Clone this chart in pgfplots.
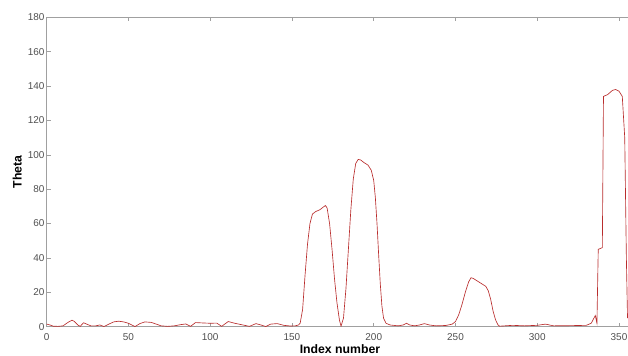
\documentclass[border=0pt]{standalone}
\usepackage{fontspec}
\setmainfont{Liberation Sans}
\usepackage{pgfplots}
\pgfplotsset{compat=1.18}
\definecolor{axgray}{RGB}{160,160,160}
\definecolor{ticktext}{RGB}{80,80,80}
\definecolor{linered}{RGB}{185,45,45}
\begin{document}
\begin{tikzpicture}
\begin{axis}[
  at={(0,0)}, anchor=south west,
  scale only axis, width=581.3bp, height=309.4bp,
  xmin=0, xmax=355.5, ymin=0, ymax=180,
  axis x line*=box, axis y line*=left,
  axis line style={axgray, line width=0.6bp},
  tick style={axgray, line width=0.6bp},
  tick align=inside, major tick length=4bp,
  xtick={0,50,...,350}, ytick={0,20,...,180},
  /pgf/number format/assume math mode=true,
  tick label style={font=\fontsize{10}{12}\selectfont, text=ticktext, inner sep=1bp},
  xticklabel style={yshift=-5.5bp},
  yticklabel style={xshift=-1bp},
  xlabel={Index number}, ylabel={Theta},
  every axis x label/.style={at={(axis description cs:0.5045,0)}, anchor=base, yshift=-26.3bp, font=\bfseries\fontsize{12.3}{15}\selectfont, text=black},
  every axis y label/.style={at={(axis description cs:-0.043,0.5)}, anchor=base, rotate=90, font=\bfseries\fontsize{12.3}{15}\selectfont, text=black},
]
\addplot[linered, line width=0.65bp] table {
x y
0 1.5
2 1
4 0.3
7 0.2
10 0.5
13 2.5
15.5 3.8
17 3
19 1
20.5 0.2
22.5 2.3
24.5 1.5
27 0.5
30 0.5
32.5 1
35 0.1
38 1.5
41 2.8
44 3.2
47 2.8
50 2
52 1
54 0.1
57 1.8
60 2.8
64 2.5
67 1.5
70 0.5
74 0.2
78 0.5
82 1.2
85 1.6
88 0.2
91 2.4
95 2.2
100 2
104 2.1
107 0.2
111 3
115 2
120 1
124 0.2
128 1.8
131 1
134 0.1
137 1.5
141 1.8
145 0.8
149 0.4
152 0.5
154 1
155 2
156.5 10
158 30
159.5 48
161 60
162.5 65.5
164.5 67
167 68
169 69.5
170.5 70.5
171.5 69
173 60
174.5 45
176 28
177.5 14
179 4
180 0.3
181.5 5
183 22
184.5 45
186 68
187.5 86
189 95
190.5 97.3
192 97
194 95.5
196.5 94
198.5 91
200 85
201 75
202 60
203 42
204 25
205 12
206 5
207.5 2
210 1
215 0.5
218 1
220 2
222 1
225 0.5
228 1
231 1.8
234 1
238 0.5
244 0.7
248 1.5
250 3
252 7
254 13
256 20
258 26
259.5 28.5
261 28
263 26.8
266 25
268.5 23.5
270 21
271.5 16
273 9
274.5 4
276 1
277 0.3
285 0.8
292 0.5
300 0.8
305 1.5
310 0.5
320 0.6
330 0.8
333 2
335.5 6.5
336.5 2
337.3 45
339.8 46
340.5 134
343 135
346 137.5
348 138
350 137
352 134
353.5 110
354.5 40
355.2 5
};
\end{axis}
\pgfresetboundingbox
\path[use as bounding box] (-46.7bp,-29.3bp) rectangle (581.3bp,326.7bp);
\end{tikzpicture}
\end{document}
